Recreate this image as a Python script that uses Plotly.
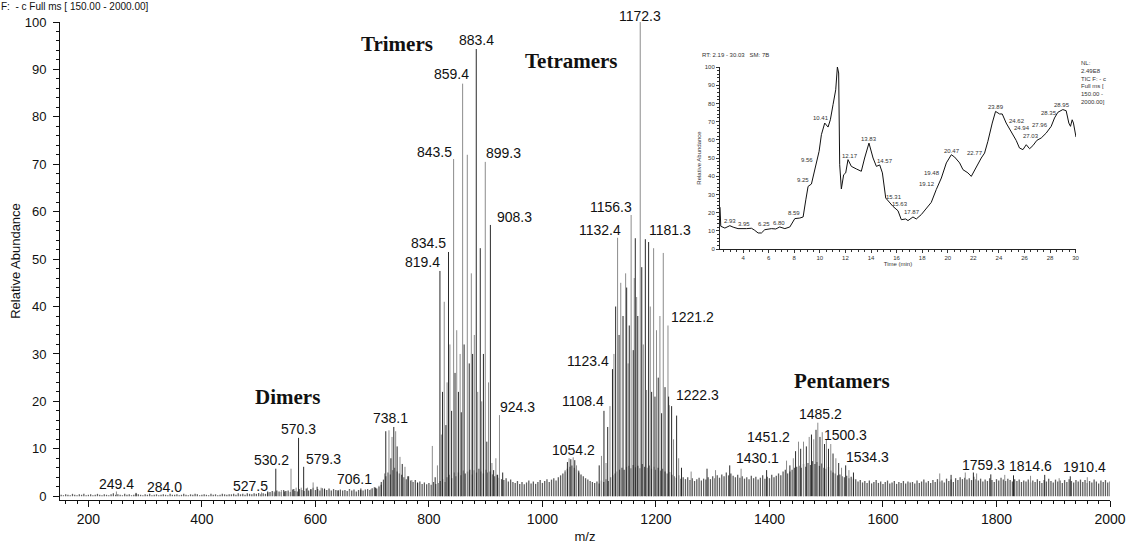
import plotly.graph_objects as go

# ---------------- data ----------------
# baseline noise sticks (every 4 m/z starting at 152)
noise_start = 152
noise_step = 4
noise_heights = [
    0.3,0.2,0.4,0.3,0.2, 0.5,0.3,0.2,0.4,0.3, 0.5,0.2,0.3,0.4,0.2, 0.3,0.5,0.3,0.2,0.4, 0.3,0.2,0.4,0.6,0.3,
    0.4,0.3,0.2,0.5,0.3, 0.4,0.2,0.3,0.5,0.4, 0.3,0.2,0.4,0.3,0.5, 0.2,0.3,0.4,0.2,0.3, 0.4,0.3,0.2,0.5,0.3,
    0.3,0.4,0.2,0.3,0.5, 0.3,0.2,0.4,0.3,0.5, 0.4,0.2,0.3,0.4,0.3, 0.2,0.5,0.3,0.4,0.2, 0.3,0.5,0.4,0.3,0.4,
    0.4,0.5,0.3,0.6,0.4, 0.5,0.3,0.6,0.5,0.4, 0.6,0.5,0.7,0.4,0.6, 0.5,0.8,0.9,1.1,0.8, 1.2,1.0,0.9,1.3,1.1,
    1.2,0.9,1.4,1.1,1.0, 1.5,1.3,1.1,1.6,1.2, 1.4,1.8,1.3,1.5,1.2, 1.7,1.4,1.3,1.6,1.2, 1.5,1.3,1.1,1.4,1.2,
    1.3,1.1,1.5,1.2,1.4, 1.0,1.3,1.6,1.2,1.4, 1.5,1.3,1.7,1.9,1.6, 2.0,2.4,3.5,4.2,5.0, 4.6,5.5,6.0,5.2,4.8,
    4.5,4.0,3.6,4.2,3.3, 3.0,3.4,2.8,3.1,2.6, 2.9,2.5,2.8,2.4,3.0, 2.6,2.8,3.2,3.6,3.0, 4.0,4.5,3.8,5.0,4.2,
    5.0,4.4,5.4,4.8,5.2, 5.6,4.6,5.5,5.0,5.8, 5.2,4.8,5.6,5.0,5.2, 4.6,4.2,4.5,3.9,3.6, 3.4,3.8,3.1,3.5,3.0,
    2.8,3.2,2.6,3.0,2.5, 2.9,3.3,2.7,3.1,2.6, 3.0,3.4,2.8,3.2,3.6, 3.0,3.5,3.8,3.3,4.0, 4.4,4.8,5.2,5.8,6.2,
    6.5,6.0,5.6,5.0,4.6, 4.2,3.8,3.5,3.2,3.0, 2.8,3.1,2.7,3.3,3.0, 3.6,3.2,4.0,4.4,4.8, 5.2,5.6,6.0,5.6,6.2,
    6.4,5.9,6.6,6.1,6.4, 5.9,6.8,6.2,6.0,6.5, 5.8,6.2,5.6,6.0,5.4, 5.8,5.2,4.8,5.1,4.5, 4.2,3.9,4.4,3.7,4.0,
    3.6,4.0,3.4,3.8,3.2, 3.6,3.9,3.3,3.7,3.5, 4.0,3.6,4.2,3.8,4.4, 3.9,4.6,4.2,5.0,4.4, 4.8,4.3,4.0,4.5,3.9,
    4.2,3.7,4.0,3.6,4.3, 3.8,4.1,3.5,3.9,4.4, 3.7,4.1,3.8,4.5,4.0, 4.3,4.8,4.4,5.2,5.6, 4.8,5.2,5.6,6.0,6.2,
    6.4,6.0,6.8,6.2,7.0, 6.6,7.4,6.8,7.2,6.4, 6.9,6.0,5.8,6.2,5.4, 5.0,4.8,4.4,4.6,4.2, 4.0,4.3,3.8,4.1,3.7,
    3.6,3.1,3.4,2.9,3.2, 2.8,3.3,2.7,3.0,3.4, 2.8,3.1,2.6,3.0,3.3, 2.7,2.9,3.2,2.6,3.0, 2.8,3.2,2.7,3.1,2.9,
    3.0,2.7,3.3,2.8,3.1, 3.5,2.9,3.2,2.8,3.4, 3.0,3.6,3.1,3.3,2.9, 3.7,3.2,3.5,3.0,3.8, 3.4,4.0,3.6,3.9,3.5,
    3.8,3.4,4.1,3.6,3.3, 3.7,3.1,3.5,3.2,3.8, 3.4,3.0,3.6,3.3,3.9, 3.5,3.2,3.7,3.4,3.1, 3.6,3.2,3.5,3.0,3.3,
    3.1,3.5,2.9,3.3,3.0, 3.6,3.2,2.8,3.4,3.1, 3.7,3.2,2.9,3.5,3.1, 3.3,2.8,3.4,3.0,3.6, 3.2,2.9,3.4,3.1,3.5,
    3.0,3.4,2.8,3.2,2.9, 3.5,3.1,2.7,3.3,3.0, 3.4,2.9,3.1,
]

# unlabeled cluster peaks (m/z, relative abundance)
peak_mz = [
    505, 516, 540, 546, 557, 562, 566, 575, 586, 592, 596, 603, 610, 616, 625, 640, 660, 680, 698, 712, 716,
    722, 724, 729.6, 733, 735, 741.4, 744, 749, 753, 757.8, 763, 770, 780, 806, 811,
    815, 822, 824, 827, 830, 832, 837, 840, 846, 849, 852, 855, 857, 862, 867.6, 871, 874.7, 877, 880,
    886, 890.5, 893, 896, 902, 905, 911, 914, 918, 921, 930,
    1040, 1044, 1047, 1050, 1057, 1060, 1064, 1068,
    1100, 1104, 1112, 1115, 1119, 1126, 1129, 1135, 1138, 1142, 1146.6, 1148.4, 1151, 1153, 1160, 1161.8,
    1163.6, 1166, 1168, 1175, 1177.7, 1183.6, 1187.1, 1190, 1192.4, 1195.9, 1198.3, 1201, 1204, 1207, 1210,
    1212.9, 1216, 1223.5, 1227.6, 1231, 1236.4, 1240, 1245,
    1262, 1290, 1305, 1330, 1350, 1395,
    1436, 1442, 1446, 1455, 1460, 1465, 1470, 1474, 1478, 1482, 1489, 1493, 1497, 1504, 1508, 1512, 1517,
    1522, 1527, 1540, 1548,
    1700, 1720, 1745, 1765, 1790, 1830, 1860, 1885, 1930, 1960,
]
peak_abund = [
    0.8, 1.0, 1.3, 1.0, 5.8, 1.5, 1.8, 1.8, 1.8, 1.5, 2.9, 2.0, 1.8, 1.6, 1.4, 1.3, 1.2, 1.3, 1.5, 2.2, 3.0,
    4.8, 13.7, 13.9, 8.0, 12.5, 13.7, 10.5, 8.3, 6.8, 6.2, 4.2, 3.4, 2.9, 10.6, 4.0,
    6.5, 13.0, 22.0, 41.0, 15.0, 24.0, 32.0, 18.0, 26.0, 35.0, 22.0, 30.0, 17.7, 32.0, 72.0, 28.0, 47.0, 30.0, 34.0,
    22.0, 52.3, 20.0, 30.0, 11.5, 24.0, 7.0, 5.5, 8.0, 4.5, 5.0,
    5.5, 7.2, 8.0, 7.8, 7.6, 6.5, 5.4, 4.5,
    6.5, 8.5, 7.0, 14.6, 19.0, 30.0, 40.0, 34.0, 45.0, 38.0, 47.0, 44.0, 28.0, 36.0, 30.8, 46.0,
    54.4, 42.0, 38.0, 48.3, 32.0, 22.4, 53.6, 40.0, 22.0, 52.3, 21.0, 35.0, 25.0, 38.0, 17.5,
    51.3, 23.0, 19.2, 19.0, 12.0, 17.0, 8.0, 6.0,
    5.2, 5.8, 5.5, 6.5, 5.8, 5.5,
    6.5, 8.0, 9.5, 10.0, 11.5, 10.5, 12.5, 13.0, 12.0, 14.0, 12.5, 13.5, 11.0, 10.0, 11.0, 9.0, 8.0,
    7.0, 6.0, 5.5, 5.0,
    4.8, 4.5, 5.0, 4.8, 4.6, 4.4, 4.3, 4.5, 4.2, 4.0,
]

# labeled peaks
label_mz = [249.4, 284.0, 527.5, 530.2, 570.3, 579.3, 706.1, 738.1, 819.4, 834.5, 843.5, 859.4, 883.4,
            899.3, 908.3, 924.3, 1054.2, 1108.4, 1123.4, 1132.4, 1156.3, 1172.3, 1181.3, 1221.2, 1222.3,
            1430.1, 1451.2, 1485.2, 1500.3, 1534.3, 1759.3, 1814.6, 1910.4]
label_abund = [1.0, 0.7, 1.0, 5.8, 12.3, 6.2, 1.8, 14.6, 47.5, 51.5, 71.1, 87.0, 94.3,
               70.5, 57.2, 17.1, 8.2, 18.0, 26.8, 54.5, 59.3, 100.0, 54.2, 36.0, 21.0,
               7.5, 11.5, 15.5, 12.0, 6.5, 5.0, 4.5, 3.8]

group_names = ["Dimers", "Trimers", "Tetramers", "Pentamers"]

# inset chromatogram (TIC)
tic_time = [2.19, 2.25, 2.57, 2.96, 3.22, 3.6, 4.26, 4.65, 4.9, 5.17, 5.43, 5.69, 6.21, 6.55, 6.86, 7.26,
            7.65, 8.04, 8.43, 8.69, 8.9, 9.08, 9.34, 9.52, 9.73, 9.94, 10.12, 10.38, 10.64, 10.82, 11.03,
            11.24, 11.37, 11.47, 11.55, 11.68, 11.86, 12.02, 12.2, 12.46, 12.85, 13.24, 13.5, 13.84, 14.16,
            14.42, 14.68, 14.89, 15.15, 15.46, 15.72, 16.11, 16.37, 16.71, 16.89, 17.28, 17.54, 17.93, 18.32,
            18.71, 19.1, 19.5, 19.89, 20.28, 20.54, 20.93, 21.19, 21.58, 21.84, 22.23, 22.62, 22.88, 23.14,
            23.48, 23.74, 24.05, 24.26, 24.57, 24.96, 25.35, 25.61, 25.88, 26.14, 26.4, 26.66, 26.97, 27.31,
            27.7, 28.09, 28.35, 28.61, 29.0, 29.26, 29.47, 29.6, 29.73, 29.83, 30.03]
tic_abund = [23.0, 12.5, 11.5, 12.8, 12.0, 11.2, 11.2, 11.4, 10.3, 8.8, 8.8, 10.6, 11.2, 11.0, 12.1, 11.2,
             12.1, 16.7, 17.0, 17.6, 27.0, 34.4, 35.7, 41.4, 47.3, 53.7, 62.8, 69.2, 67.0, 71.0, 79.3,
             87.5, 100.0, 96.7, 46.3, 33.0, 40.8, 41.8, 49.1, 45.4, 44.0, 42.7, 50.0, 58.2, 50.0,
             45.4, 46.2, 41.8, 28.0, 25.6, 23.4, 21.0, 16.1, 16.5, 15.6, 17.6, 16.5, 18.9, 22.5,
             25.6, 32.6, 39.0, 47.3, 51.8, 50.5, 47.3, 43.6, 41.8, 39.9, 45.4, 50.0, 52.7, 59.2,
             69.2, 75.6, 74.2, 74.2, 69.2, 64.7, 59.7, 55.5, 54.6, 57.3, 55.1, 56.8, 59.7, 61.0,
             63.7, 67.4, 72.0, 75.1, 76.6, 76.0, 69.2, 67.4, 71.0, 69.2, 61.5]
tic_label_text = ["2.93", "3.95", "6.25", "6.80", "8.59", "9.25", "9.56", "10.41", "11.40", "12.17", "13.83",
                  "14.57", "15.31", "15.63", "17.87", "19.12", "19.48", "20.47", "22.77", "23.89", "24.62",
                  "24.94", "27.03", "27.96", "28.35", "28.95"]
tic_label_pos = [(2.96, 15.2), (4.08, 13.7), (5.64, 13.9), (6.81, 14.3), (7.98, 19.8), (8.68, 37.7),
                 (9.03, 48.7), (10.12, 71.8), (11.42, 102.7), (12.33, 51.3), (13.84, 60.4), (15.07, 48.4),
                 (15.8, 28.6), (16.24, 25.0), (17.18, 20.5), (18.4, 35.5), (18.79, 41.7), (20.33, 54.0),
                 (22.1, 53.0), (23.77, 78.0), (25.44, 70.5), (25.8, 66.5), (26.53, 62.0), (27.24, 68.3),
                 (27.9, 74.7), (28.95, 79.0)]

# ---------------- layout / style (positions) ----------------
label_shift = [(0, 7.5), (28, 6), (-24, 5.5), (-4, 8.7), (0, 9), (20, 8), (-21, 8.7), (-3, 9), (-17, 9),
               (-20, 9), (-19, 7), (-11, 9.6), (0, 9), (18, 9), (24, 8), (18, 8), (0, 7.3), (-21, 10),
               (-24, 8), (-17.5, 8), (-20, 8), (0, 6), (25, 9), (25, 8.5), (29, 1.6), (-29.5, 2.6),
               (-30, 4.7), (3, 8.7), (19, 4), (22, 8), (10, 7.5), (26, 9), (25, 11)]
group_pos = [(550, 20.9), (743, 95.4), (1051, 91.8), (1527, 24.3)]

FONT = "Arial, Liberation Sans, sans-serif"
SERIF = "Times New Roman, Liberation Serif, serif"
L, R, T, B = 60, 18, 22, 46
PW, PH = 1128 - L - R, 546 - T - B


def sticks(mzs, hs):
    xs, ys = [], []
    for m, h in zip(mzs, hs):
        xs += [m, m, None]
        ys += [0, h, None]
    return xs, ys


def px2paper(px, py):
    return (px - L) / PW, (546 - B - py) / PH


fig = go.Figure()

noise_mz = [noise_start + noise_step * i for i in range(len(noise_heights))]
nx, ny = sticks(noise_mz, noise_heights)
fig.add_trace(go.Scatter(x=nx, y=ny, mode="lines", line=dict(color="#5e5e5e", width=1.3),
                         hoverinfo="skip", showlegend=False))

all_peaks = sorted(zip(peak_mz + label_mz, peak_abund + label_abund))
light = [p for i, p in enumerate(all_peaks) if i % 2 == 0]
dark = [p for i, p in enumerate(all_peaks) if i % 2 == 1]
lx, ly = sticks([p[0] for p in light], [p[1] for p in light])
dx, dy = sticks([p[0] for p in dark], [p[1] for p in dark])
fig.add_trace(go.Scatter(x=lx, y=ly, mode="lines", line=dict(color="#8c8c8c", width=1),
                         hoverinfo="skip", showlegend=False))
fig.add_trace(go.Scatter(x=dx, y=dy, mode="lines", line=dict(color="#2a2a2a", width=1),
                         hoverinfo="skip", showlegend=False))

# inset TIC
fig.add_trace(go.Scatter(x=tic_time, y=tic_abund, mode="lines", line=dict(color="#111111", width=1),
                         xaxis="x2", yaxis="y2", hoverinfo="skip", showlegend=False))

annotations = []
for m, h, (xs, ys) in zip(label_mz, label_abund, label_shift):
    annotations.append(dict(x=m, y=h, xref="x", yref="y", text=f"{m:.1f}", showarrow=False,
                            xanchor="center", yanchor="middle", xshift=xs, yshift=ys,
                            font=dict(family=FONT, size=14, color="#111111")))
for name, (gx, gy) in zip(group_names, group_pos):
    annotations.append(dict(x=gx, y=gy, xref="x", yref="y", text=f"<b>{name}</b>", showarrow=False,
                            xanchor="center", yanchor="middle",
                            font=dict(family=SERIF, size=21, color="#111111")))
for t, (tx, ty) in zip(tic_label_text, tic_label_pos):
    annotations.append(dict(x=tx, y=ty, xref="x2", yref="y2", text=t, showarrow=False,
                            xanchor="center", yanchor="middle",
                            font=dict(family=FONT, size=6, color="#333333")))

# header texts
hx, hy = px2paper(0, 0)
annotations.append(dict(x=hx, y=hy, xref="paper", yref="paper",
                        text="F:  - c Full ms [ 150.00 - 2000.00]", showarrow=False, borderpad=0,
                        xanchor="left", yanchor="top", font=dict(family=FONT, size=10, color="#111111")))
rx, ry = px2paper(700, 55)
annotations.append(dict(x=rx, y=ry, xref="paper", yref="paper",
                        text="RT: 2.19 - 30.03   SM: 7B", showarrow=False, xanchor="left", yanchor="middle",
                        font=dict(family=FONT, size=6, color="#333333")))
nlx, nly = px2paper(1079, 58)
annotations.append(dict(x=nlx, y=nly, xref="paper", yref="paper",
                        text="NL:<br>2.49E8<br>TIC F: - c<br>Full ms [<br>150.00 -<br>2000.00]",
                        showarrow=False, xanchor="left", yanchor="top", align="left",
                        font=dict(family=FONT, size=6, color="#333333")))

ix0, iy0 = px2paper(720, 249)
ix1, iy1 = px2paper(1076, 67)

fig.update_layout(
    width=1128, height=546, autosize=False,
    margin=dict(l=L, r=R, t=T, b=B, autoexpand=False),
    paper_bgcolor="white", plot_bgcolor="white",
    showlegend=False,
    font=dict(family=FONT, color="#111111"),
    annotations=annotations,
    xaxis=dict(range=[150, 2000], tick0=0, dtick=200, ticks="outside", ticklen=6, tickcolor="#111111",
               showline=True, linecolor="#111111", linewidth=1, showgrid=False, zeroline=False,
               automargin=False,
               minor=dict(dtick=20, tick0=0, ticks="outside", ticklen=3, tickcolor="#111111"),
               tickfont=dict(size=14, family=FONT), title=dict(text="m/z", font=dict(size=13, family=FONT),
                                                                standoff=6)),
    yaxis=dict(range=[-0.8, 100], tick0=0, dtick=10, ticks="outside", ticklen=6, tickcolor="#111111",
               showline=True, linecolor="#111111", linewidth=1, showgrid=False, zeroline=False,
               automargin=False,
               minor=dict(dtick=2, tick0=0, ticks="outside", ticklen=3, tickcolor="#111111"),
               tickfont=dict(size=13, family=FONT), ticklabelstandoff=4,
               title=dict(text="Relative Abundance", font=dict(size=13, family=FONT), standoff=1)),
    xaxis2=dict(domain=[ix0, ix1], anchor="y2", range=[2.19, 30.03], tick0=0, dtick=2,
                ticks="outside", ticklen=3, tickcolor="#333333", showline=True, linecolor="#222222",
                linewidth=1, showgrid=False, zeroline=False, automargin=False,
                minor=dict(dtick=0.5, tick0=0, ticks="outside", ticklen=2, tickcolor="#333333"),
                tickfont=dict(size=6, family=FONT, color="#333333"),
                title=dict(text="Time (min)", font=dict(size=6, family=FONT, color="#333333"), standoff=1)),
    yaxis2=dict(domain=[iy0, iy1], anchor="x2", range=[0, 100], tick0=0, dtick=10,
                ticks="outside", ticklen=3, tickcolor="#333333", showline=True, linecolor="#222222",
                linewidth=1, showgrid=False, zeroline=False, automargin=False,
                minor=dict(dtick=2, tick0=0, ticks="outside", ticklen=2, tickcolor="#333333"),
                tickfont=dict(size=6, family=FONT, color="#333333"),
                title=dict(text="Relative Abundance", font=dict(size=6, family=FONT, color="#333333"),
                           standoff=2)),
)

fig.write_html("out.html")
